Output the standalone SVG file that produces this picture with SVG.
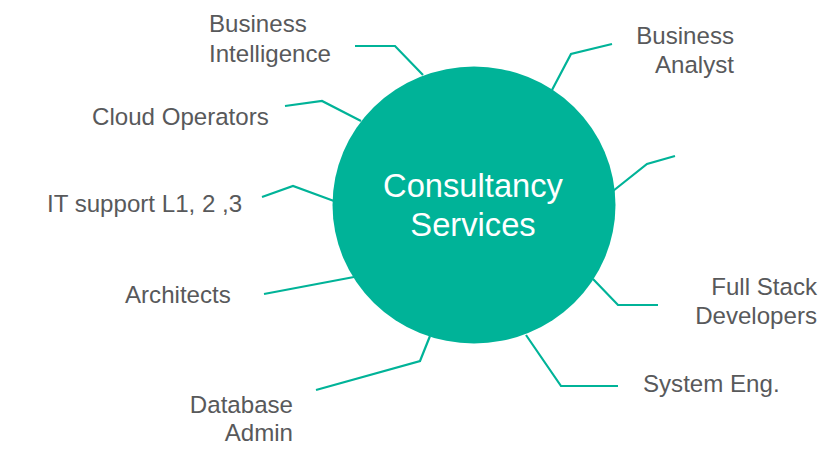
<svg xmlns="http://www.w3.org/2000/svg" width="840" height="462" viewBox="0 0 840 462">
<style>
.lbl{font-family:"Liberation Sans",Arial,sans-serif;font-size:24.1px;fill:#58595b}
.r{text-anchor:end}
.c{font-family:"Liberation Sans",Arial,sans-serif;font-size:32.7px;fill:#ffffff;text-anchor:middle}
.ln{fill:none;stroke:#00b398;stroke-width:2.2;stroke-linejoin:miter}
</style>
<rect width="840" height="462" fill="#ffffff"/>
<g id="connectors">
<polyline class="ln" points="355,46 395,46 423,75"/>
<polyline class="ln" points="612,44 571,54 552,90"/>
<polyline class="ln" points="285,106 322,101 361,121"/>
<polyline class="ln" points="262,197 293,186 334,201"/>
<polyline class="ln" points="675,156 647,164 613,191"/>
<polyline class="ln" points="264,294 354,277"/>
<polyline class="ln" points="316,390 420,361 430,336"/>
<polyline class="ln" points="593,279 618,305 658,305"/>
<polyline class="ln" points="526,335 561,386 618,386"/>
</g>
<g id="center">
<ellipse cx="474" cy="205" rx="141.5" ry="138.5" fill="#00b398"/>
<text class="c" x="473" y="197">Consultancy</text>
<text class="c" x="473" y="236">Services</text>
</g>
<g id="business-intelligence"><text class="lbl" x="209" y="32">Business</text><text class="lbl" x="209" y="62">Intelligence</text></g>
<g id="business-analyst"><text class="lbl r" x="734" y="44">Business</text><text class="lbl r" x="734" y="73">Analyst</text></g>
<g id="cloud-operators"><text class="lbl" x="92" y="125">Cloud Operators</text></g>
<g id="it-support"><text class="lbl" x="47" y="212">IT support L1, 2 ,3</text></g>
<g id="architects"><text class="lbl" x="125" y="303">Architects</text></g>
<g id="database-admin"><text class="lbl r" x="293" y="413">Database</text><text class="lbl r" x="293" y="441">Admin</text></g>
<g id="full-stack"><text class="lbl r" x="817" y="295">Full Stack</text><text class="lbl r" x="817" y="324">Developers</text></g>
<g id="system-eng"><text class="lbl" x="643" y="392">System Eng.</text></g>
</svg>
